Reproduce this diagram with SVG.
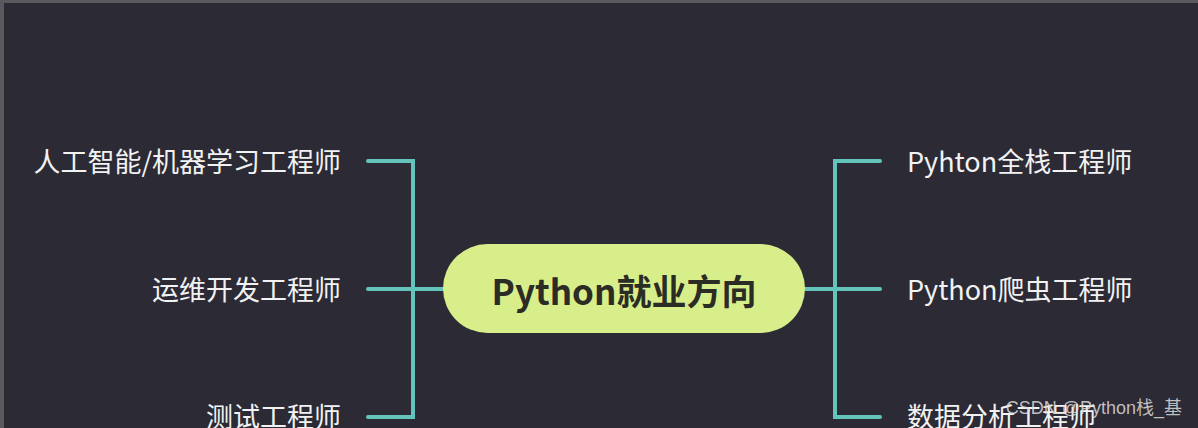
<svg xmlns="http://www.w3.org/2000/svg" width="1198" height="428" viewBox="0 0 1198 428">
<style>
.bg{fill:#2c2a35}
.conn{fill:none;stroke:#62c4bb;stroke-width:4;stroke-linecap:round;stroke-linejoin:miter}
.lbl{font-family:"Noto Sans CJK SC","Noto Sans",sans-serif;font-size:27px;fill:#f2f2f2;dominant-baseline:central}
.center{font-family:"Noto Sans CJK SC","Noto Sans",sans-serif;font-size:35px;font-weight:bold;fill:#2b2c24;dominant-baseline:central;text-anchor:middle}
.wm{font-family:"Liberation Sans","Noto Sans CJK SC",sans-serif;font-size:18px;fill:#dcdcdc;fill-opacity:0.85}
</style>
<rect class="bg" x="0" y="0" width="1198" height="428"/>
<rect x="0" y="0" width="1198" height="3" fill="#5a5a5e"/>
<rect x="0" y="0" width="4" height="428" fill="#5a5a5e"/>
<g id="connectors">
<path class="conn" d="M368 161 H413 V417 H368"/>
<path class="conn" d="M368 289 H445"/>
<path class="conn" d="M880 161 H835 V417 H880"/>
<path class="conn" d="M805 289 H880"/>
</g>
<g id="center">
<rect x="443" y="244" width="362" height="89" rx="44.5" fill="#d8ee8a"/>
<text class="center" x="624" y="289">Python就业方向</text>
</g>
<g id="n-ai"><text class="lbl" x="341" y="160" text-anchor="end">人工智能/机器学习工程师</text></g>
<g id="n-ops"><text class="lbl" x="341" y="288" text-anchor="end">运维开发工程师</text></g>
<g id="n-test"><text class="lbl" x="341" y="415" text-anchor="end">测试工程师</text></g>
<g id="n-full"><text class="lbl" x="907" y="160">Pyhton全栈工程师</text></g>
<g id="n-spider"><text class="lbl" x="907" y="288">Python爬虫工程师</text></g>
<g id="n-data"><text class="lbl" x="907" y="415">数据分析工程师</text></g>
<text class="wm" x="1182" y="414" text-anchor="end">CSDN @Python栈_基</text>
</svg>
